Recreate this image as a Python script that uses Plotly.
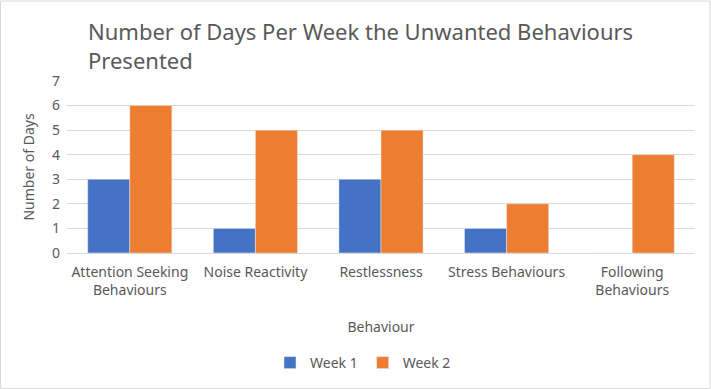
import plotly.graph_objects as go

categories = ["Attention Seeking<br>Behaviours", "Noise Reactivity", "Restlessness",
              "Stress Behaviours", "Following<br>Behaviours"]
week1 = [3, 1, 3, 1, 0]
week2 = [6, 5, 5, 2, 4]
y_ticks = [0, 1, 2, 3, 4, 5, 6, 7]

W, H = 711, 389
ml, mr, mt, mb = 67, 16, 81, 136
pw, ph = W - ml - mr, H - mt - mb

grey = "#595959"
font = "Noto Sans"

fig = go.Figure()
fig.add_trace(go.Bar(x=categories, y=week1, name="Week 1", marker_color="#4472C4"))
fig.add_trace(go.Bar(x=categories, y=week2, name="Week 2", marker_color="#ED7D31"))

fig.update_layout(
    width=W, height=H,
    margin=dict(l=ml, r=mr, t=mt, b=mb, autoexpand=False),
    paper_bgcolor="white", plot_bgcolor="white",
    barmode="group", bargap=0.33, bargroupgap=0,
    font=dict(family=font, color=grey, size=14),
    showlegend=True,
    legend=dict(orientation="h", x=0.5 - 18 / pw, xanchor="center", y=-(363 - 253) / ph,
                yanchor="middle", font=dict(size=14, color=grey), traceorder="normal",
                itemwidth=30),
    xaxis=dict(showline=True, linecolor="#d9d9d9", linewidth=1, ticks="", automargin=False,
               ticklabelstandoff=6,
               tickfont=dict(size=14, color=grey),
               title=dict(text="Behaviour", font=dict(size=14, color=grey), standoff=24)),
    yaxis=dict(range=[0, 7], tickvals=y_ticks, showgrid=True, gridcolor="#d9d9d9",
               zeroline=False, showline=False, ticks="", automargin=False,
               ticklabelstandoff=6,
               tickfont=dict(size=14, color=grey),
               title=dict(text="Number of Days", font=dict(size=14, color=grey), standoff=14)),
)

fig.add_annotation(text="Number of Days Per Week the Unwanted Behaviours<br>Presented",
                   xref="paper", yref="paper", x=(86 - ml) / pw, y=1 + (mt - 14) / ph,
                   xanchor="left", yanchor="top", align="left", showarrow=False,
                   font=dict(size=22, color=grey, family=font))

fig.add_shape(type="rect", xref="paper", yref="paper",
              x0=-ml / pw + 0.5 / pw, x1=1 + (mr - 1) / pw,
              y0=-mb / ph + 0.5 / ph, y1=1 + (mt - 1) / ph,
              line=dict(color="#d9d9d9", width=1), layer="below")

fig.write_html("out.html", config={"displayModeBar": False},
               post_script="document.body.style.margin='0';document.body.style.overflow='hidden';")
